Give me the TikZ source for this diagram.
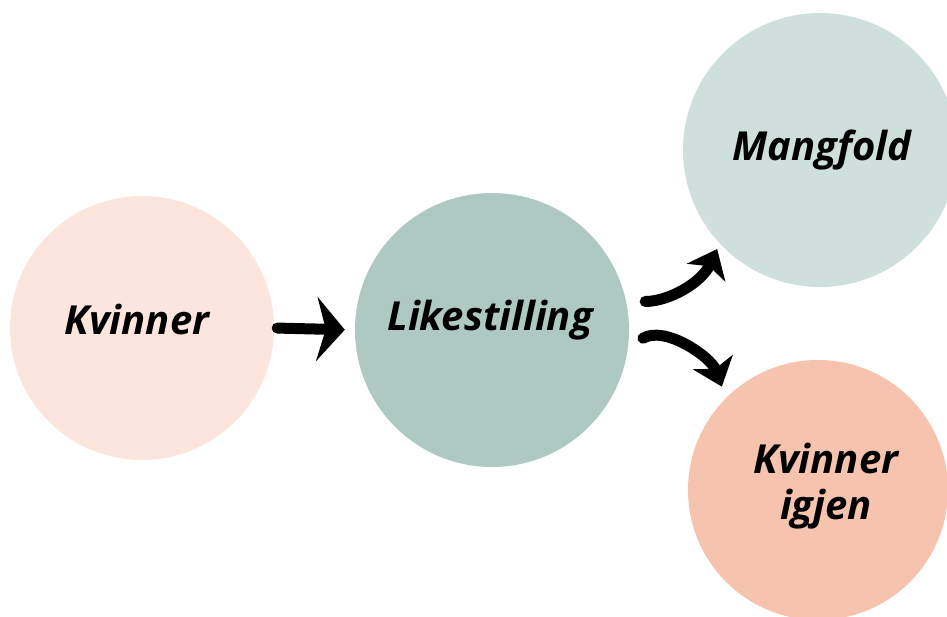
\documentclass[tikz,border=0pt]{standalone}
\usepackage{fontspec}
\setmainfont{Open Sans}
\usepackage{xcolor}
\usepackage{tikz}
\usetikzlibrary{arrows.meta}
\definecolor{kvcol}{HTML}{FBE5DD}
\definecolor{likcol}{HTML}{ADC9C2}
\definecolor{mangcol}{HTML}{CFE0DC}
\definecolor{igjcol}{HTML}{F5C3AE}
\begin{document}
\begin{tikzpicture}[x=1pt,y=1pt,
    ball/.style={circle, inner sep=0pt},
    word/.style={font=\fontsize{40}{46}\selectfont\bfseries\itshape, align=center},
    brush/.style={line width=11pt, line cap=round}]
    \useasboundingbox (0,0) rectangle (947,617);
    \clip (0,0) rectangle (947,617);
    % circles
    \node[ball, fill=kvcol, minimum size=264pt] (kv) at (142,289) {};
    \node[ball, fill=likcol, minimum size=274pt] (lik) at (492,287) {};
    \node[ball, fill=mangcol, minimum size=274pt] (mang) at (820,467) {};
    \node[ball, fill=igjcol, minimum size=260pt] (igj) at (818,127) {};
    % texts
    \node[word] (kvtext) at ([xshift=-5pt, yshift=8pt]kv.center) {Kvinner};
    \node[word] (liktext) at ([xshift=-2pt, yshift=10pt]lik.center) {Likestilling};
    \node[word] (mangtext) at ([xshift=2pt]mang.center) {Mangfold};
    \node[word, text depth=0pt] (igjtext) at ([xshift=8pt, yshift=9pt]igj.center) {Kvinner\\igjen};
    % arrows
    \draw[brush, -{Stealth[length=28pt, width=64pt, inset=9pt]}, shorten <=3pt, shorten >=10pt]
        (kv.east) -- (lik.west);
    \draw[brush, -{Stealth[length=26pt, width=42pt, inset=7pt]}, shorten <=19pt, shorten >=6pt]
        (lik.12) to[out=0, in=245] (mang.223);
    \draw[brush, -{Stealth[length=26pt, width=42pt, inset=7pt]}, shorten <=17pt, shorten >=12pt]
        (lik.353) to[out=30, in=110] (igj.135);
\end{tikzpicture}
\end{document}
